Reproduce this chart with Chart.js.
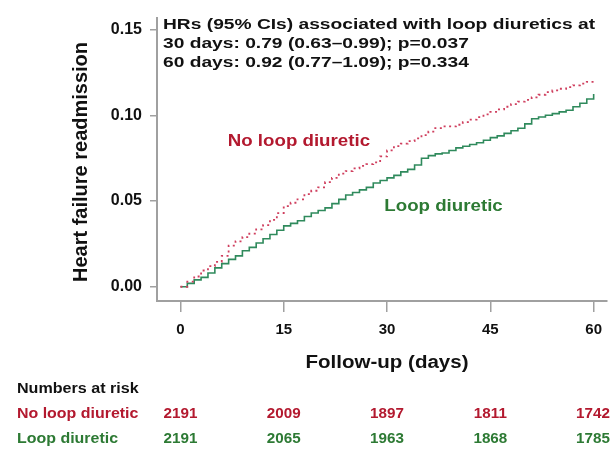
<!DOCTYPE html>
<html>
<head>
<meta charset="utf-8">
<script src="https://cdn.jsdelivr.net/npm/chart.js@4/dist/chart.umd.min.js"></script>
<style>
  html, body { margin: 0; padding: 0; background: #fff; }
  #wrap { width: 611px; height: 451px; position: relative; }
</style>
</head>
<body>
<div id="wrap"><canvas id="chart-0"></canvas></div>
<script>
// follow-up day of each step
var days = [0,1,2,3,4,5,6,7,8,9,10,11,12,13,14,15,16,17,18,19,20,
            21,22,23,24,25,26,27,28,29,30,31,32,33,34,35,36,37,38,39,40,
            41,42,43,44,45,46,47,48,49,50,51,52,53,54,55,56,57,58,59,60];
// cumulative heart failure readmission, no loop diuretic
var noLoopRisk = [0,0.003,0.006,0.0095,0.012,0.0145,0.018,0.024,0.0265,0.029,0.031,
                  0.0335,0.036,0.039,0.043,0.047,0.049,0.051,0.054,0.056,0.058,
                  0.061,0.0635,0.066,0.0675,0.069,0.0705,0.0715,0.0725,0.076,0.0795,
                  0.082,0.0835,0.085,0.0865,0.0885,0.0905,0.0925,0.0935,0.0935,0.0945,
                  0.096,0.0975,0.099,0.1005,0.102,0.1035,0.105,0.1065,0.108,0.109,
                  0.1105,0.112,0.1135,0.1145,0.1155,0.1165,0.1175,0.1185,0.1195,0.121];
// cumulative heart failure readmission, loop diuretic
var loopRisk = [0,0.002,0.004,0.0055,0.008,0.011,0.0135,0.016,0.018,0.021,0.023,
                0.0255,0.028,0.0305,0.033,0.0355,0.037,0.0385,0.041,0.043,0.0445,
                0.046,0.0485,0.051,0.0535,0.055,0.0565,0.058,0.0605,0.062,0.0635,
                0.065,0.067,0.0685,0.071,0.075,0.0765,0.0775,0.078,0.0795,0.081,
                0.082,0.083,0.084,0.0855,0.087,0.088,0.0895,0.091,0.0925,0.095,
                0.098,0.099,0.1,0.101,0.102,0.103,0.105,0.107,0.1095,0.1125];

var xTicks = [0, 15, 30, 45, 60];
var yTicks = [0, 0.05, 0.10, 0.15];

// numbers at risk table
var riskDays = [0, 15, 30, 45, 60];
var atRiskNoLoop = [2191, 2009, 1897, 1811, 1742];
var atRiskLoop = [2191, 2065, 1963, 1868, 1785];

var hrLines = ["HRs (95% CIs) associated with loop diuretics at",
               "30 days: 0.79 (0.63\u20130.99); p=0.037",
               "60 days: 0.92 (0.77\u20131.09); p=0.334"];

var RED = "#b3192f", RED_LINE = "#cf3f5e";
var GREEN = "#2d7a34", GREEN_LINE = "#2f8a5c";
var FONT = "'Liberation Sans', Arial, Helvetica, sans-serif";

function toXY(xs, ys){
    var out = [];
    for (var i = 0; i < xs.length; i++) out.push({x: xs[i], y: ys[i]});
    return out;
}

// text with a horizontal stretch, the source figure is wider than normal
function stretchText(ctx, txt, x, y, size, sx, align, color){
    ctx.save();
    ctx.font = "bold " + size + "px " + FONT;
    ctx.fillStyle = color;
    ctx.textBaseline = "middle";
    var w = ctx.measureText(txt).width * sx;
    var left = x;
    if (align === "center") left = x - w / 2;
    if (align === "right") left = x - w;
    ctx.translate(left, y);
    ctx.scale(sx, 1);
    ctx.textAlign = "left";
    ctx.fillText(txt, 0, 0);
    ctx.restore();
}

var extras = {
    id: "extras",
    afterDraw: function(chart){
        var ctx = chart.ctx, xs = chart.scales.x, ys = chart.scales.y;
        // HR annotation
        for (var i = 0; i < hrLines.length; i++){
            stretchText(ctx, hrLines[i], 163, 25 + i * 18.7, 15, 1.28, "left", "#111");
        }
        // curve labels
        stretchText(ctx, "No loop diuretic", xs.getPixelForValue(17.2), ys.getPixelForValue(0.0850), 17, 1.1, "center", RED);
        stretchText(ctx, "Loop diuretic", xs.getPixelForValue(38.2), ys.getPixelForValue(0.0472), 17, 1.1, "center", GREEN);
        // axis titles
        stretchText(ctx, "Follow-up (days)", 387, 363, 18, 1.14, "center", "#111");
        ctx.save();
        ctx.translate(81, 162);
        ctx.rotate(-Math.PI / 2);
        ctx.font = "bold 20px " + FONT;
        ctx.fillStyle = "#111";
        ctx.textAlign = "center";
        ctx.textBaseline = "middle";
        ctx.fillText("Heart failure readmission", 0, 0);
        ctx.restore();
        // numbers at risk
        stretchText(ctx, "Numbers at risk", 17, 389, 14.5, 1.11, "left", "#111");
        stretchText(ctx, "No loop diuretic", 17, 414, 14.5, 1.1, "left", RED);
        stretchText(ctx, "Loop diuretic", 17, 439, 14.5, 1.1, "left", GREEN);
        for (var j = 0; j < riskDays.length; j++){
            var px = Math.min(xs.getPixelForValue(riskDays[j]), chart.width - 18);
            stretchText(ctx, String(atRiskNoLoop[j]), px, 414, 14.5, 1.05, "center", RED);
            stretchText(ctx, String(atRiskLoop[j]), px, 439, 14.5, 1.05, "center", GREEN);
        }
    }
};

new Chart(document.getElementById("chart-0"), {
    type: "line",
    data: {
        datasets: [
            {label: "No loop diuretic", data: toXY(days, noLoopRisk), stepped: true,
             borderColor: RED_LINE, borderWidth: 1.8, borderDash: [2, 3.5], pointRadius: 0, fill: false},
            {label: "Loop diuretic", data: toXY(days, loopRisk), stepped: true,
             borderColor: GREEN_LINE, borderWidth: 1.6, pointRadius: 0, fill: false}
        ]
    },
    options: {
        responsive: true,
        maintainAspectRatio: false,
        animation: false,
        layout: {padding: {left: 0, right: 0, top: 15, bottom: 0}},
        plugins: {legend: {display: false}, tooltip: {enabled: false}},
        scales: {
            x: {
                type: "linear", min: -3.4, max: 61.9,
                afterBuildTicks: function(s){ s.ticks = xTicks.map(function(v){ return {value: v}; }); },
                afterFit: function(s){ s.height = 150; },
                grid: {drawOnChartArea: false, drawTicks: true, tickLength: 11, color: "#a0a0a0", lineWidth: 1.5},
                border: {display: true, color: "#a0a0a0", width: 2},
                ticks: {color: "#111", font: {family: FONT, size: 15, weight: "bold"}, padding: 9, maxRotation: 0}
            },
            y: {
                type: "linear", min: -0.0083, max: 0.157,
                afterBuildTicks: function(s){ s.ticks = yTicks.map(function(v){ return {value: v}; }); },
                afterFit: function(s){ s.width = 157; },
                grid: {drawOnChartArea: false, drawTicks: true, tickLength: 7, color: "#a0a0a0", lineWidth: 1.5},
                border: {display: true, color: "#a0a0a0", width: 2},
                ticks: {color: "#111", font: {family: FONT, size: 16, weight: "bold"}, padding: 8,
                        callback: function(v){ return v.toFixed(2); }}
            }
        }
    },
    plugins: [extras]
});
</script>
</body>
</html>
